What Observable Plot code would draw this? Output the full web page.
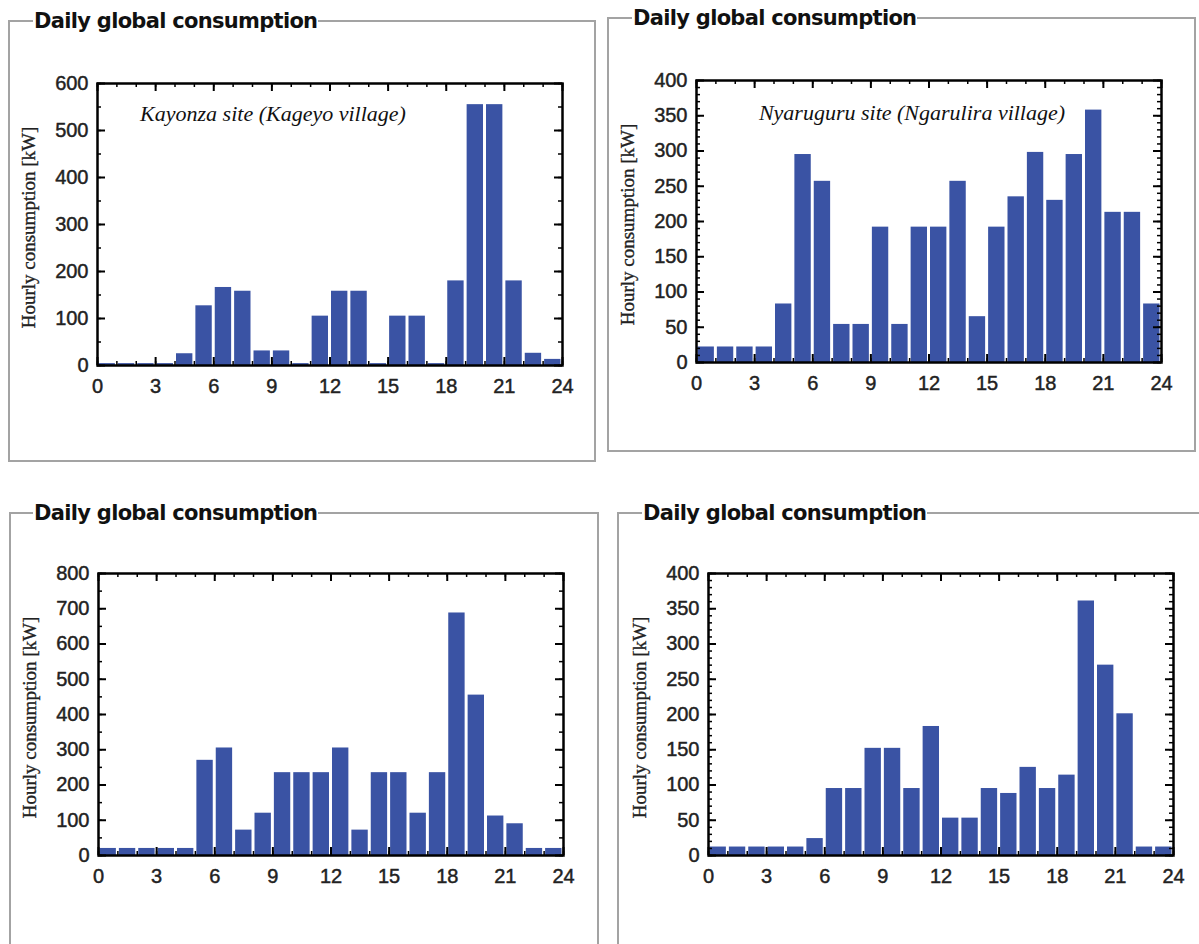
<!DOCTYPE html>
<html>
<head>
<meta charset="utf-8">
<script src="https://cdn.jsdelivr.net/npm/d3@7"></script>
<script src="https://cdn.jsdelivr.net/npm/@observablehq/plot@0.6"></script>
<style>
  html, body { margin: 0; padding: 0; background: #fff; }
  #page { position: relative; width: 1199px; height: 944px; overflow: hidden; background: #fff; }
  .box { position: absolute; border: 2px solid #a3a3a3; box-sizing: border-box; }
  .title { position: absolute; font-family: "DejaVu Sans", sans-serif; font-weight: bold; font-size: 21px;
           color: #111; background: #fff; line-height: 24px; padding: 0 1px; letter-spacing: -0.7px; white-space: nowrap; }
  .plot { position: absolute; }
  .plot svg g[aria-label="x-axis tick label"] text,
  .plot svg g[aria-label="y-axis tick label"] text { stroke: #222; stroke-width: 0.45px; }
  .plot svg g.ylab text { stroke: #222; stroke-width: 0.35px; }
</style>
</head>
<body>
<div id="page"></div>
<script>
// ---- data ----
const hours = [0,1,2,3,4,5,6,7,8,9,10,11,12,13,14,15,16,17,18,19,20,21,22,23];
const kayonza   = [4,4,4,4,25,127,166,158,31,31,4,105,158,158,4,105,105,4,180,555,555,180,26,13];
const nyaruguru = [22,22,22,22,83,295,257,54,54,192,54,192,192,257,65,192,235,298,230,295,358,213,213,83];
const site3     = [20,20,20,20,20,270,305,72,120,235,235,235,305,72,235,235,120,235,688,455,112,90,20,20];
const site4     = [12,12,12,12,12,24,95,95,152,152,95,183,53,53,95,88,125,95,114,361,270,201,12,12];
const xTickLabels = [0,3,6,9,12,15,18,21,24];
const xMinorTicks = d3.range(0, 25, 1);
const titleText = "Daily global consumption";
const yLabel = "Hourly consumption [kW]";
const annotations = ["Kayonza site (Kageyo village)", "Nyaruguru site (Ngarulira village)", "", ""];

const panels = [
  {values: kayonza,   ymax: 600, major: 100, minor: 50, ann: annotations[0],
   box: [8, 20, 588, 442], titleX: 33, frame: [97, 83], annDx: -57, annDy: 22},
  {values: nyaruguru, ymax: 400, major: 50, minor: 10, ann: annotations[1],
   box: [607, 17, 589, 435], titleX: 632, frame: [696, 80], annDx: -17, annDy: 24},
  {values: site3,     ymax: 800, major: 100, minor: 50, ann: annotations[2],
   box: [9, 512, 590, 460], titleX: 33, frame: [98, 573], annDx: 0, annDy: 0},
  {values: site4,     ymax: 400, major: 50, minor: 10, ann: annotations[3],
   box: [617, 512, 600, 460], titleX: 642, frame: [708, 573], annDx: 0, annDy: 0}
];

const page = document.getElementById("page");
const W = 465, H = 282, ml = 95, mt = 20, mr = 20, mb = 45;
const barColor = "#3a53a4";

panels.forEach(p => {
  const box = document.createElement("div");
  box.className = "box";
  box.style.left = p.box[0] + "px"; box.style.top = p.box[1] + "px";
  box.style.width = p.box[2] + "px"; box.style.height = p.box[3] + "px";
  page.appendChild(box);

  const t = document.createElement("div");
  t.className = "title";
  t.textContent = titleText;
  t.style.left = p.titleX + "px";
  t.style.top = (p.box[1] - 11) + "px";
  page.appendChild(t);

  const data = hours.map((h, i) => ({h, v: p.values[i]}));
  const yMajor = d3.range(0, p.ymax + 1, p.major);
  const yMinor = d3.range(0, p.ymax + 1, p.minor);
  const xMajor = xTickLabels;

  const marks = [
    Plot.rectY(data, {x1: "h", x2: d => d.h + 1, y1: 0, y2: "v", fill: barColor, insetLeft: 1.5, insetRight: 1.5}),
    Plot.ruleX(xMinorTicks, {x: d => d, insetTop: H - 4, stroke: "#000", strokeWidth: 1.5}),
    Plot.ruleX(xMajor, {x: d => d, insetTop: H - 8, stroke: "#000", strokeWidth: 2}),
    Plot.ruleX(xMinorTicks, {x: d => d, insetBottom: H - 4, stroke: "#000", strokeWidth: 1.5}),
    Plot.ruleX(xMajor, {x: d => d, insetBottom: H - 8, stroke: "#000", strokeWidth: 2}),
    Plot.ruleY(yMinor, {y: d => d, insetRight: W - 4, stroke: "#000", strokeWidth: 1.5}),
    Plot.ruleY(yMajor, {y: d => d, insetRight: W - 8, stroke: "#000", strokeWidth: 2}),
    Plot.ruleY(yMinor, {y: d => d, insetLeft: W - 4, stroke: "#000", strokeWidth: 1.5}),
    Plot.ruleY(yMajor, {y: d => d, insetLeft: W - 8, stroke: "#000", strokeWidth: 2}),
    Plot.frame({stroke: "#000", strokeWidth: 2.5}),
    Plot.axisX(xMajor, {tickSize: 0, tickPadding: 13, label: null, fontSize: 20, fill: "#222"}),
    Plot.axisY(yMajor, {tickSize: 0, tickPadding: 9, label: null, fontSize: 20, fill: "#222"}),
    Plot.text([yLabel], {frameAnchor: "left", textAnchor: "middle", rotate: -90, dx: -69, dy: 3, text: d => d,
      fontFamily: "Liberation Serif", fontSize: 19, fill: "#222", className: "ylab"})
  ];
  if (p.ann) {
    marks.push(Plot.text([p.ann], {frameAnchor: "top", dx: p.annDx, dy: p.annDy, text: d => d,
      fontFamily: "Liberation Serif", fontStyle: "italic", fontSize: 22, fill: "#111"}));
  }

  const chart = Plot.plot({
    width: ml + W + mr, height: mt + H + mb,
    marginLeft: ml, marginTop: mt, marginRight: mr, marginBottom: mb,
    style: {fontFamily: "Liberation Sans, Arial, sans-serif", background: "transparent", overflow: "visible"},
    x: {domain: [0, 24]},
    y: {domain: [0, p.ymax]},
    marks
  });
  const holder = document.createElement("div");
  holder.className = "plot";
  holder.style.left = (p.frame[0] - ml) + "px";
  holder.style.top = (p.frame[1] - mt) + "px";
  holder.appendChild(chart);
  page.appendChild(holder);
});
</script>
</body>
</html>
